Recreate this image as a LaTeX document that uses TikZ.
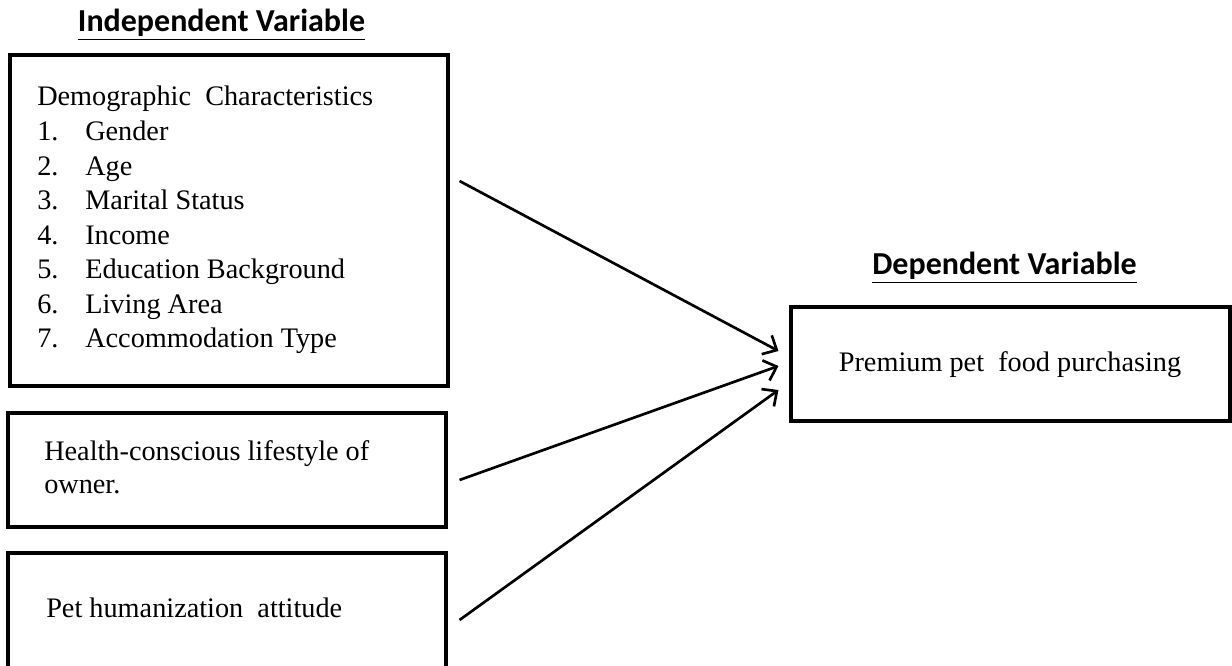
\documentclass[tikz,border=0pt]{standalone}
\usepackage{fontspec}
\setmainfont{Liberation Serif}
\newfontfamily\headfont{Carlito}
\usetikzlibrary{positioning,fit,calc,arrows.meta}

\tikzset{
  box/.style={draw, line width=2.3pt, inner sep=0pt},
  txt/.style={inner sep=0pt, font=\fontsize{21.2}{25.9}\selectfont},
  head/.style={inner sep=0pt, font=\headfont\bfseries\fontsize{24}{28}\selectfont},
  link/.style={line width=2pt, -{Straight Barb[length=8.5pt,width=16pt,line width=2pt]}}
}

\begin{document}
\begin{tikzpicture}[x=0.75pt,y=-0.75pt]
    \path[use as bounding box] (0,0) rectangle (1232,666);

    % Independent Variable
    \node[head, anchor=base] (indep) at (221.5,32) {\underline{Independent Variable}};

    % Demographic box
    \node[box, fit={(10,55) (448,386)}] (demo) {};
    \node[txt, anchor=base west] (demotxt) at (37,106) {%
      \begin{tabular}[t]{@{}p{36pt}@{}l@{}}
        \multicolumn{2}{@{}l@{}}{Demographic\ \ Characteristics}\\
        1. & Gender\\
        2. & Age\\
        3. & Marital Status\\
        4. & Income\\
        5. & Education Background\\
        6. & Living Area\\
        7. & Accommodation Type
      \end{tabular}};

    % Health box
    \node[box, fit={(8,413) (446,527)}] (health) {};
    \node[txt, anchor=base west] (healthtxt) at (44,460) {%
      \begin{tabular}[t]{@{}l@{}}
        Health-conscious lifestyle of\\[-0.8pt]
        owner.
      \end{tabular}};

    % Humanization box
    \node[box, fit={(8,553) (446,700)}] (human) {};
    \node[txt, anchor=base west] (humantxt) at (46,617) {Pet humanization\ \ attitude};

    % Dependent Variable
    \node[head, anchor=base] (dep) at (1004.5,275) {\underline{Dependent Variable}};
    \node[box, fit={(791,307) (1230,421)}] (res) {};
    \node[txt, anchor=base] (restxt) at (1010,372) {Premium pet\ \ food purchasing};

    % Links
    \draw[link] ($(demo.east)+(10,-39.5)$) -- ($(res.west)+(-11,-13)$);
    \draw[link] ($(health.east)+(12,10)$) -- ($(res.west)+(-11,2)$);
    \draw[link] ($(human.east)+(12,-6.5)$) -- ($(res.west)+(-11,26)$);
\end{tikzpicture}
\end{document}
